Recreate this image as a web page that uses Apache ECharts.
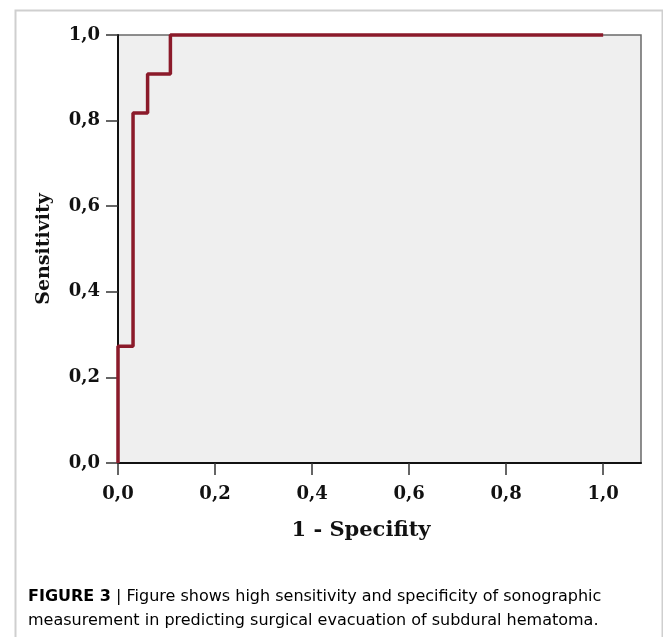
<!DOCTYPE html>
<html>
<head>
<meta charset="utf-8">
<script src="https://cdn.jsdelivr.net/npm/echarts@6/dist/echarts.min.js"></script>
<style>
html,body{margin:0;padding:0;background:#fff;}
#chart{width:663px;height:637px;}
</style>
</head>
<body>
<div id="chart"></div>
<script>
// ROC curve points (1 - specificity, sensitivity)
const fpr = [0, 0, 0.031, 0.061, 0.108, 1.0];
const tpr = [0, 0.273, 0.818, 0.909, 1.0, 1.0];
const xTicks = [0, 0.2, 0.4, 0.6, 0.8, 1.0];
const yTicks = [0, 0.2, 0.4, 0.6, 0.8, 1.0];
const xTitle = '1 - Specifity';
const yTitle = 'Sensitivity';
const captionBold = 'FIGURE 3';
const captionLine1 = ' | Figure shows high sensitivity and specificity of sonographic';
const captionLine2 = 'measurement in predicting surgical evacuation of subdural hematoma.';

const fmt = v => Number(v).toFixed(1).replace('.', ',');
const serif = 'DejaVu Serif';

const chart = echarts.init(document.getElementById('chart'), null, {renderer: 'canvas'});
chart.setOption({
  animation: false,
  backgroundColor: '#ffffff',
  grid: {
    left: 118, top: 35, right: 22, bottom: 174,
    show: true, backgroundColor: '#efefef', borderColor: '#6a6a6a', borderWidth: 1.5
  },
  xAxis: {
    type: 'value', min: 0, max: 1.078,
    name: xTitle, nameLocation: 'middle', nameGap: 57,
    nameTextStyle: {fontFamily: serif, fontWeight: 'bold', fontSize: 21, color: '#111', padding: [0, 37, 0, 0]},
    axisLine: {show: true, lineStyle: {color: '#111', width: 2}},
    axisTick: {show: true, length: 12, customValues: xTicks, lineStyle: {color: '#333', width: 1.5}},
    axisLabel: {customValues: xTicks, margin: 22, formatter: fmt,
      fontFamily: serif, fontWeight: 'bold', fontSize: 18, color: '#111'},
    splitLine: {show: false}
  },
  yAxis: {
    type: 'value', min: 0, max: 1, interval: 0.2,
    name: yTitle, nameLocation: 'middle', nameGap: 64, nameRotate: 90,
    nameTextStyle: {fontFamily: serif, fontWeight: 'bold', fontSize: 19, color: '#111'},
    axisLine: {show: true, lineStyle: {color: '#111', width: 2}},
    axisTick: {show: true, length: 12, lineStyle: {color: '#333', width: 1.5}},
    axisLabel: {margin: 18, formatter: fmt,
      fontFamily: serif, fontWeight: 'bold', fontSize: 18, color: '#111'},
    splitLine: {show: false}
  },
  series: [{
    type: 'line',
    data: fpr.map((x, i) => [x, tpr[i]]),
    step: 'end',
    symbol: 'none',
    clip: false,
    lineStyle: {color: '#8b1a2a', width: 3.5}
  }],
  graphic: [
    {type: 'rect', left: 13, top: 8, z: -10,
      shape: {width: 647, height: 640},
      style: {fill: 'none', stroke: '#cfcfcf', lineWidth: 2}},
    {type: 'text', left: 28, top: 589,
      style: {
        text: '{b|' + captionBold + '}{n|' + captionLine1 + '}\n{n|' + captionLine2 + '}',
        rich: {
          b: {fontFamily: 'DejaVu Sans', fontWeight: 'bold', fontSize: 16, color: '#333', lineHeight: 24},
          n: {fontFamily: 'DejaVu Sans', fontSize: 16, color: '#4a4a4a', lineHeight: 24}
        }
      }}
  ]
});
</script>
</body>
</html>
